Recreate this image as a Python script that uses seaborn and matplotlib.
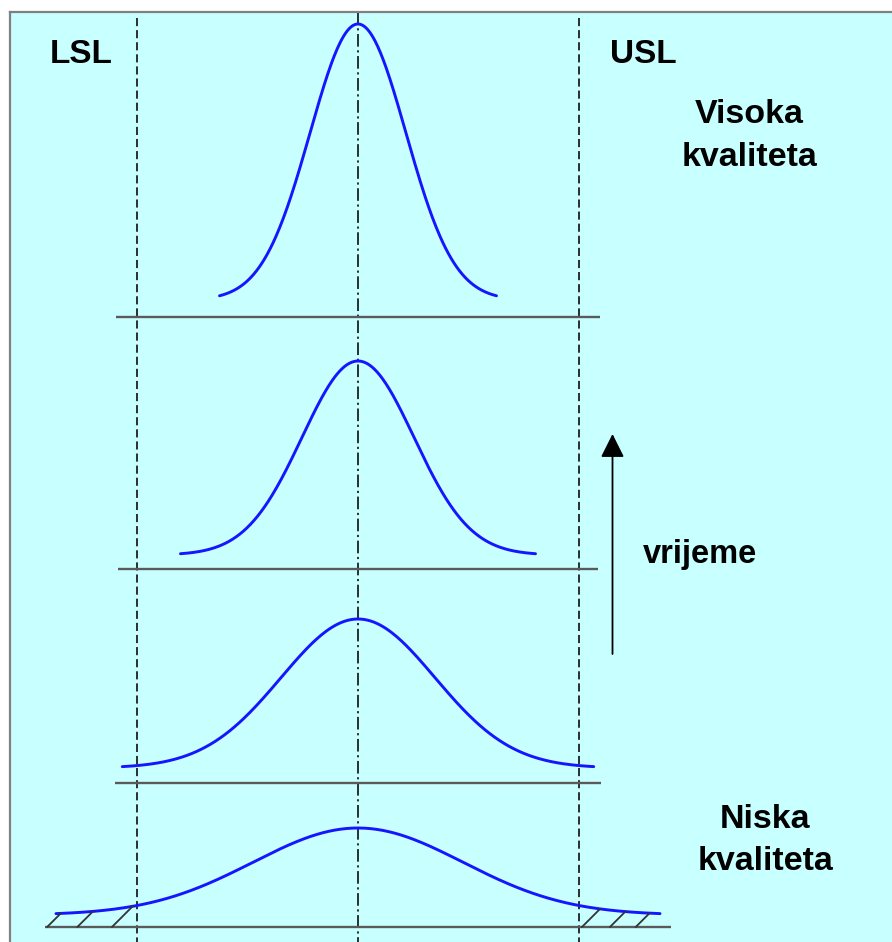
import numpy as np
import pandas as pd
import seaborn as sns
import matplotlib.pyplot as plt

W, H = 892, 942
PX = 221 / 3          # pixels per process unit
CENTRE_PX = 358       # pixel column of the target line

# process axis: target at 0, specification limits at +-3
LSL, TARGET, USL = -3.0, 0.0, 3.0

# one bell curve per stage, top (high quality) to bottom (low quality)
baselines = [317, 569, 783, 927]        # baseline height, px from top
baseline_half = [3.28, 3.26, 3.30, 4.25]
sigmas = [0.65, 0.76, 1.045, 1.425]
peak_heights = [276, 194, 149, 87]      # px above the curve foot
foot_lift = [17, 14, 15, 12]            # px between curve foot and baseline
tails = [1.88, 2.41, 3.20, 4.10]

# out-of-spec hatching under the widest curve (start points on the baseline)
hatch_left = [-4.22, -3.81, -3.34]
hatch_right = [3.04, 3.42, 3.77]

BLUE = "#1515ff"
BG = "#c8ffff"


def curve_y(x, i):
    return baselines[i] - foot_lift[i] - peak_heights[i] * np.exp(-0.5 * (x / sigmas[i]) ** 2)


rows = []
for i in range(len(sigmas)):
    for x in np.linspace(-tails[i], tails[i], 300):
        rows.append({"stage": i, "x": x, "y": curve_y(x, i)})
df = pd.DataFrame(rows)

sns.set_style("white")
plt.rcParams["font.family"] = ["Liberation Sans", "DejaVu Sans"]

fig = plt.figure(figsize=(W / 100, H / 100), dpi=100)
ax = fig.add_axes([10 / W, 0, 1 - 10 / W, (H - 12) / H])
ax.set_facecolor(BG)
ax.set_xlim((10 - CENTRE_PX) / PX, (W - CENTRE_PX) / PX)
ax.set_ylim(H, 12)
ax.set_xticks([])
ax.set_yticks([])
for side in ["right", "bottom"]:
    ax.spines[side].set_visible(False)
for side in ["left", "top"]:
    ax.spines[side].set_color("#808080")
    ax.spines[side].set_linewidth(1.6)

# spec limits and target line
ax.vlines([LSL, USL], 18, H, colors="#1e1e1e", lw=1.3, linestyles=(0, (4.5, 2.2)))
ax.vlines(TARGET, 12, H, colors="#1e1e1e", lw=1.3, linestyles=(0, (7, 2, 1.2, 2)))

# baselines
for b, hw in zip(baselines, baseline_half):
    ax.plot([-hw, hw], [b, b], color="#5a5a5a", lw=1.7, solid_capstyle="butt")

sns.lineplot(data=df, x="x", y="y", units="stage", estimator=None, sort=False,
             color=BLUE, lw=2.1, ax=ax)

# 45 degree hatch strokes from the baseline up to the curve
last = len(sigmas) - 1
for x0 in hatch_left + hatch_right:
    xs = x0 + np.linspace(0, 40 / PX, 800)
    line = baselines[last] - (xs - x0) * PX
    k = np.argmax(line <= curve_y(xs, last))
    ax.plot([x0, xs[k]], [baselines[last], line[k]], color="#333333", lw=1.3)

# time arrow
arrow_x = (612.5 - CENTRE_PX) / PX
ax.annotate("", xy=(arrow_x, 434), xytext=(arrow_x, 654),
            arrowprops=dict(arrowstyle="-|>,head_length=0.4,head_width=0.2",
                            color="black", lw=1.3, mutation_scale=36,
                            shrinkA=0, shrinkB=0))

labels = [
    ("LSL", 81.5, 63, 24),
    ("USL", 643, 63, 24),
    ("Visoka", 749, 123, 24.5),
    ("kvaliteta", 749, 166, 24.5),
    ("vrijeme", 700, 563, 23.5),
    ("Niska", 765, 828, 24.5),
    ("kvaliteta", 765.5, 870, 24.5),
]
for s, x, y, size in labels:
    fig.text(x / W, 1 - y / H, s, ha="center", va="baseline",
             fontsize=size, fontweight="bold", color="black")

fig.savefig("out.png", dpi=100)
